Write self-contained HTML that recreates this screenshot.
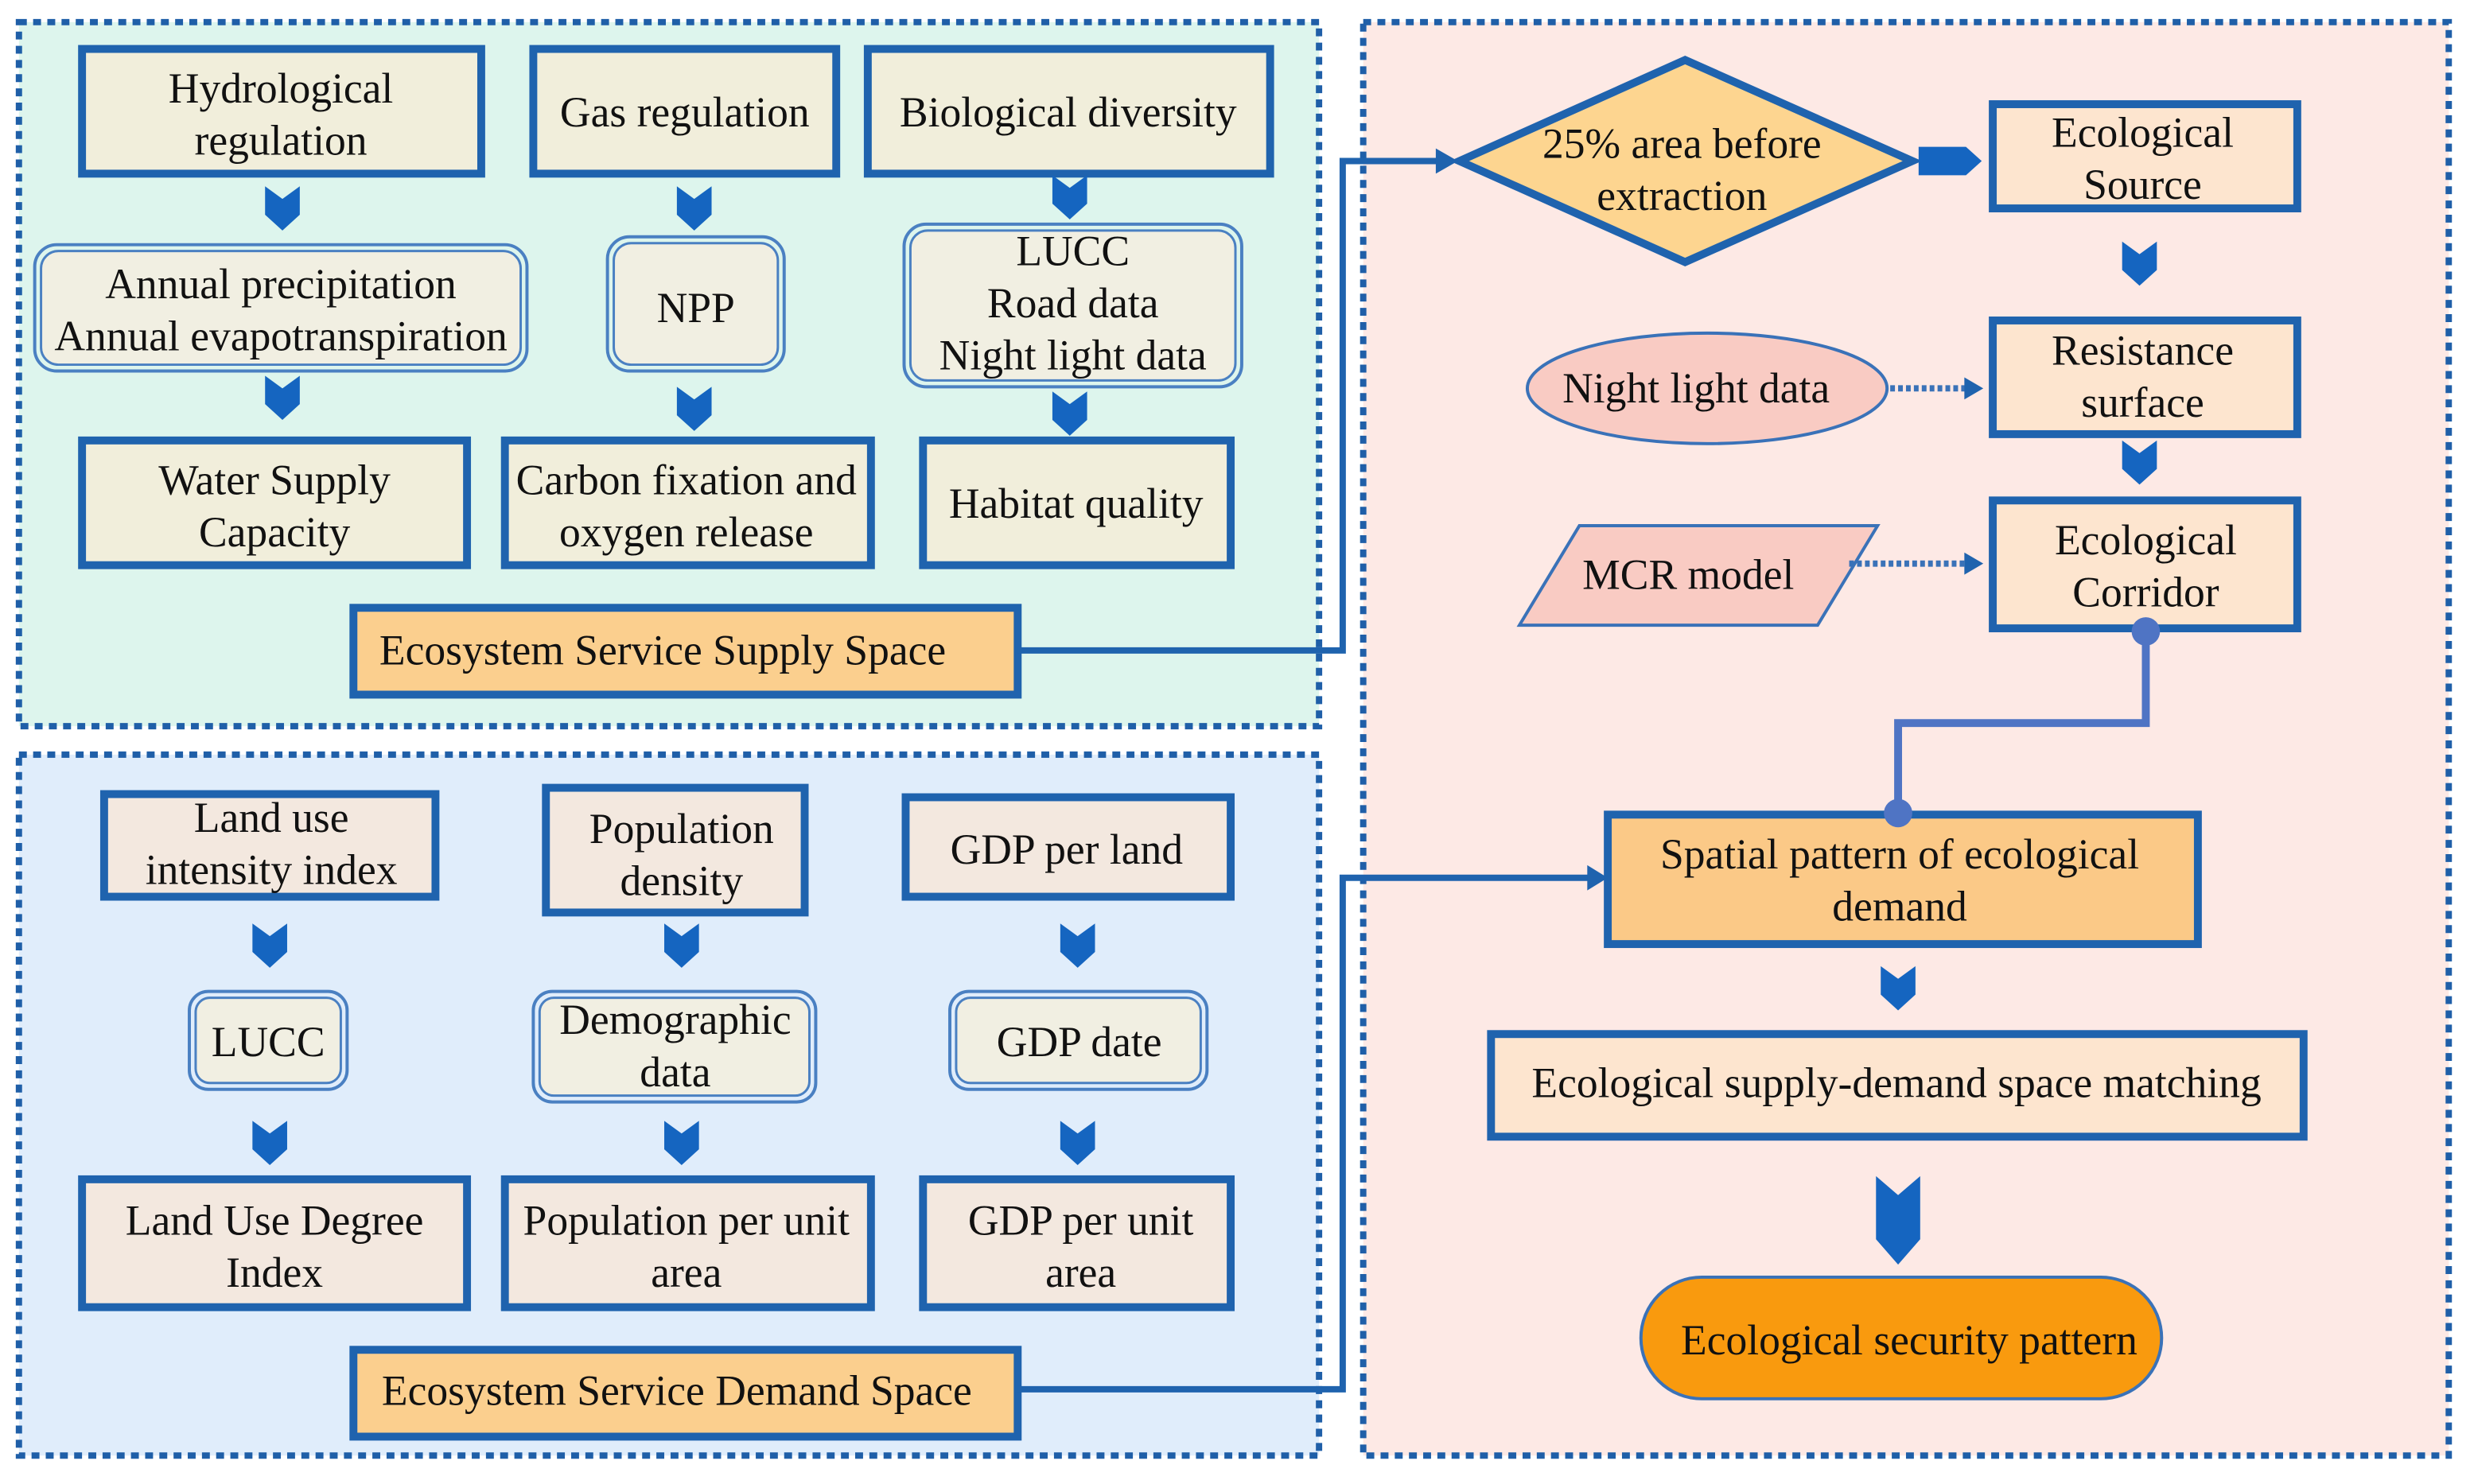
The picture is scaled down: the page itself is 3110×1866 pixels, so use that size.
<!DOCTYPE html>
<html><head><meta charset="utf-8"><style>
html,body{margin:0;padding:0;background:#fff;}
svg{display:block;}
svg text{font-family:'Liberation Serif','Times New Roman',serif;font-size:27px;fill:#111;text-anchor:middle;}
</style></head><body>
<svg width="3110" height="1866" viewBox="0 0 1568 940" preserveAspectRatio="none" xmlns="http://www.w3.org/2000/svg" font-family="Liberation Serif, serif">
<defs>
<path id="chev" d="M-11,0 L0,8 L11,0 L11,18 L0,28 L-11,18 Z" fill="#1565c0"/>
<path id="bigchev" d="M-14,0 L0,12 L14,0 L14,40 L0,56 L-14,40 Z" fill="#1565c0"/>
</defs>
<rect x="12" y="14" width="824" height="446" fill="#ddf5ed" stroke="#1f5fa8" stroke-width="4" stroke-dasharray="5 4"/>
<rect x="12" y="478" width="824" height="444" fill="#e0edfb" stroke="#1f5fa8" stroke-width="4" stroke-dasharray="5 4"/>
<rect x="864" y="14" width="688" height="908" fill="#fde9e5" stroke="#1f5fa8" stroke-width="4" stroke-dasharray="5 4"/>

<g stroke="#1f63ae" stroke-width="5" fill="#f1eedb">
<rect x="52" y="31" width="253" height="79"/>
<rect x="338" y="31" width="192" height="79"/>
<rect x="550" y="31" width="255" height="79"/>
<rect x="52" y="279" width="244" height="79"/>
<rect x="320" y="279" width="232" height="79"/>
<rect x="585" y="279" width="195" height="79"/>
</g>
<g stroke="#1f63ae" stroke-width="5" fill="#f3e8df">
<rect x="66" y="503" width="210" height="65"/>
<rect x="346" y="499" width="164" height="79"/>
<rect x="574" y="505" width="206" height="63"/>
<rect x="52" y="747" width="244" height="81"/>
<rect x="320" y="747" width="232" height="81"/>
<rect x="585" y="747" width="195" height="81"/>
</g>
<g stroke="#1f63ae" stroke-width="5" fill="#fbcf8e">
<rect x="224" y="385" width="421" height="55"/>
<rect x="224" y="855" width="421" height="55"/>
</g>
<g fill="#f1efe2">
<g stroke="#4a80c2" fill="none" stroke-width="2">
<rect x="22" y="155" width="312" height="80" rx="14"/>
<rect x="385" y="150" width="112" height="85" rx="14"/>
<rect x="573" y="142" width="214" height="103" rx="14"/>
<rect x="120" y="628" width="100" height="62" rx="12"/>
<rect x="338" y="628" width="179" height="70" rx="12"/>
<rect x="602" y="628" width="163" height="62" rx="12"/>
</g>
<g stroke="#4a80c2" stroke-width="1.5">
<rect x="26" y="159" width="304" height="72" rx="11"/>
<rect x="389" y="154" width="104" height="77" rx="11"/>
<rect x="577" y="146" width="206" height="95" rx="11"/>
<rect x="124" y="632" width="92" height="54" rx="9"/>
<rect x="342" y="632" width="171" height="62" rx="9"/>
<rect x="606" y="632" width="155" height="54" rx="9"/>
</g>
</g>
<use href="#chev" x="179" y="118"/><use href="#chev" x="440" y="118"/><use href="#chev" x="678" y="111"/>
<use href="#chev" x="179" y="238"/><use href="#chev" x="440" y="245"/><use href="#chev" x="678" y="248"/>
<use href="#chev" x="171" y="585"/><use href="#chev" x="432" y="585"/><use href="#chev" x="683" y="585"/>
<use href="#chev" x="171" y="710"/><use href="#chev" x="432" y="710"/><use href="#chev" x="683" y="710"/>

<g stroke="#1f63ae" stroke-width="4" fill="none">
<polyline points="645,412 851,412 851,102 912,102"/>
<polyline points="645,880 851,880 851,556 1008,556"/>
</g>
<path d="M910,94 L924,102 L910,110 Z" fill="#1f63ae"/>
<path d="M1006,548 L1019,556 L1006,564 Z" fill="#1f63ae"/>

<polygon points="1068,38 1212,102 1068,166 925,102" fill="#fdd590" stroke="#1f63ae" stroke-width="5"/>
<path d="M1216,93 L1246,93 L1256,102 L1246,111 L1216,111 Z" fill="#1565c0"/>
<g stroke="#1f63ae" stroke-width="5" fill="#fde5cf">
<rect x="1263" y="66" width="193" height="66"/>
<rect x="1263" y="203" width="193" height="72"/>
<rect x="1263" y="317" width="193" height="81"/>
<rect x="945" y="655" width="515" height="65"/>
</g>
<rect x="1019" y="516" width="374" height="82" fill="#fbc987" stroke="#1f63ae" stroke-width="5"/>
<use href="#chev" x="1356" y="153"/>
<use href="#chev" x="1356" y="279"/>
<use href="#chev" x="1203" y="612"/>
<use href="#bigchev" x="1203" y="745"/>
<ellipse cx="1082" cy="246" rx="114" ry="35" fill="#f9cbc3" stroke="#3a72b8" stroke-width="2"/>
<polygon points="1001,333 1190,333 1152,396 963,396" fill="#f9cbc3" stroke="#3a72b8" stroke-width="2"/>
<g stroke="#3a72b8" stroke-width="4" stroke-dasharray="3 2" fill="none">
<line x1="1198" y1="246" x2="1246" y2="246"/>
<line x1="1172" y1="357" x2="1246" y2="357"/>
</g>
<path d="M1245,239 L1257,246 L1245,253 Z" fill="#1f63ae"/>
<path d="M1245,350 L1257,357 L1245,364 Z" fill="#1f63ae"/>
<polyline points="1360,398 1360,458 1203,458 1203,515" stroke="#4f74c4" stroke-width="5" fill="none"/>
<circle cx="1360" cy="400" r="9" fill="#4f74c4"/>
<circle cx="1203" cy="515" r="9" fill="#4f74c4"/>
<rect x="1040" y="809" width="330" height="77" rx="38.5" fill="#f99a0e" stroke="#3a72b8" stroke-width="2"/>

<g font-family="Liberation Serif, serif" font-size="27" text-anchor="middle" fill="#111">
<text x="178" y="65">Hydrological</text><text x="178" y="98">regulation</text>
<text x="434" y="80">Gas regulation</text>
<text x="677" y="80">Biological diversity</text>
<text x="178" y="189">Annual precipitation</text><text x="178" y="222">Annual evapotranspiration</text>
<text x="441" y="204">NPP</text>
<text x="680" y="168">LUCC</text><text x="680" y="201">Road data</text><text x="680" y="234">Night light data</text>
<text x="174" y="313">Water Supply</text><text x="174" y="346">Capacity</text>
<text x="435" y="313">Carbon fixation and</text><text x="435" y="346">oxygen release</text>
<text x="682" y="328">Habitat quality</text>
<text x="420" y="421">Ecosystem Service Supply Space</text>
<text x="172" y="527">Land use</text><text x="172" y="560">intensity index</text>
<text x="432" y="534">Population</text><text x="432" y="567">density</text>
<text x="676" y="547">GDP per land</text>
<text x="170" y="669">LUCC</text>
<text x="428" y="655">Demographic</text><text x="428" y="688">data</text>
<text x="684" y="669">GDP date</text>
<text x="174" y="782">Land Use Degree</text><text x="174" y="815">Index</text>
<text x="435" y="782">Population per unit</text><text x="435" y="815">area</text>
<text x="685" y="782">GDP per unit</text><text x="685" y="815">area</text>
<text x="429" y="890">Ecosystem Service Demand Space</text>
<text x="1066" y="100">25% area before</text><text x="1066" y="133">extraction</text>
<text x="1358" y="93">Ecological</text><text x="1358" y="126">Source</text>
<text x="1075" y="255">Night light data</text>
<text x="1358" y="231">Resistance</text><text x="1358" y="264">surface</text>
<text x="1070" y="373">MCR model</text>
<text x="1360" y="351">Ecological</text><text x="1360" y="384">Corridor</text>
<text x="1204" y="550">Spatial pattern of ecological</text><text x="1204" y="583">demand</text>
<text x="1202" y="695">Ecological supply-demand space matching</text>
<text x="1210" y="858">Ecological security pattern</text>
</g>
</svg>
</body></html>
